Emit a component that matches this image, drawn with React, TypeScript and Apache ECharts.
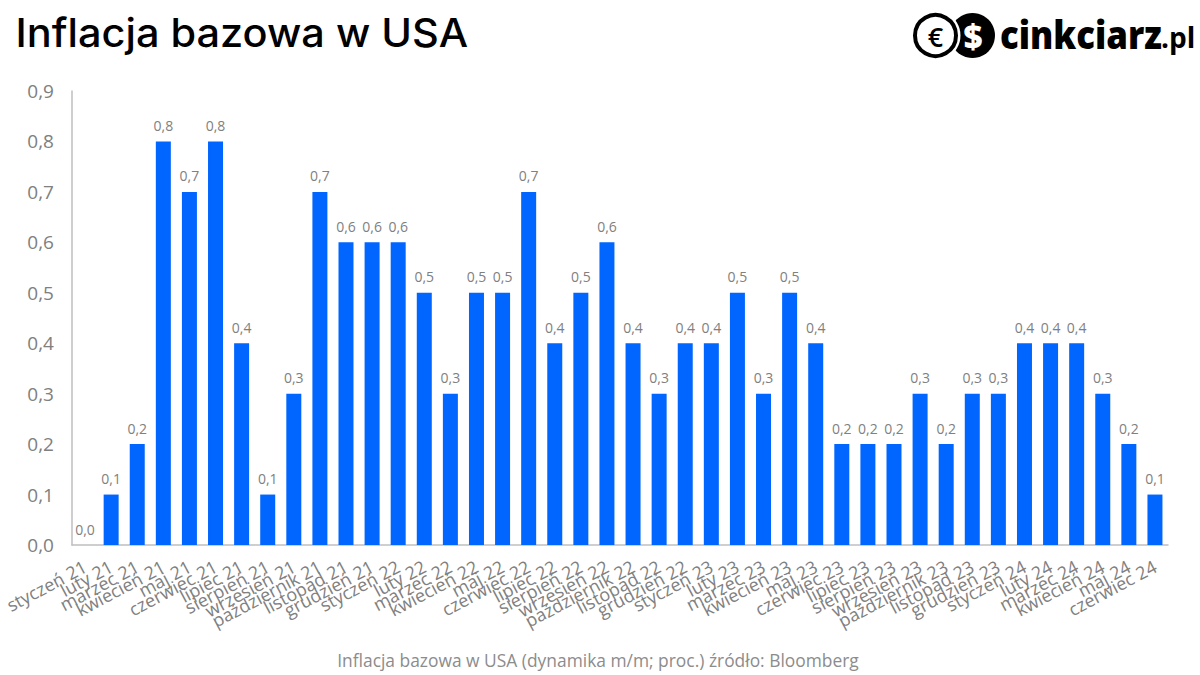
import React, { useEffect, useRef } from "react";
import * as echarts from "echarts";

const categories = [
  "styczeń 21","luty 21","marzec 21","kwiecień 21","maj 21","czerwiec 21","lipiec 21","sierpień 21","wrzesień 21","październik 21","listopad 21","grudzień 21",
  "styczeń 22","luty 22","marzec 22","kwiecień 22","maj 22","czerwiec 22","lipiec 22","sierpień 22","wrzesień 22","październik 22","listopad 22","grudzień 22",
  "styczeń 23","luty 23","marzec 23","kwiecień 23","maj 23","czerwiec 23","lipiec 23","sierpień 23","wrzesień 23","październik 23","listopad 23","grudzień 23",
  "styczeń 24","luty 24","marzec 24","kwiecień 24","maj 24","czerwiec 24",
];
const values = [
  0.0,0.1,0.2,0.8,0.7,0.8,0.4,0.1,0.3,0.7,0.6,0.6,
  0.6,0.5,0.3,0.5,0.5,0.7,0.4,0.5,0.6,0.4,0.3,0.4,
  0.4,0.5,0.3,0.5,0.4,0.2,0.2,0.2,0.3,0.2,0.3,0.3,
  0.4,0.4,0.4,0.3,0.2,0.1,
];
const titleText = "Inflacja bazowa w USA";
const sourceText = "Inflacja bazowa w USA (dynamika m/m; proc.) źródło: Bloomberg";
const fmt = (v: number) => v.toFixed(1).replace(".", ",");

export default function App() {
  const ref = useRef<HTMLDivElement>(null);
  useEffect(() => {
    document.body.style.margin = "0";
    const chart = echarts.init(ref.current!, undefined, { renderer: "svg" });
    chart.setOption({
      animation: false,
      backgroundColor: "#ffffff",
      textStyle: { fontFamily: "Open Sans" },
      grid: { left: 72, right: 32, top: 91, bottom: 130 },
      xAxis: {
        type: "category",
        data: categories,
        axisLine: { lineStyle: { color: "#bfbfbf", width: 1.5 } },
        axisTick: { show: false },
        axisLabel: { interval: 0, rotate: 28, fontSize: 18, color: "#808080", margin: 20, fontFamily: "Open Sans", hideOverlap: false },
      },
      yAxis: {
        type: "value",
        min: 0,
        max: 0.9,
        interval: 0.1,
        splitLine: { show: false },
        axisLine: { show: true, lineStyle: { color: "#bfbfbf", width: 1.5 } },
        axisTick: { show: false },
        axisLabel: { fontSize: 19, color: "#808080", margin: 18, fontFamily: "Open Sans", formatter: (v: number) => fmt(v) },
      },
      series: [{
        type: "bar",
        data: values,
        barWidth: 15,
        itemStyle: { color: "#0066ff" },
        label: { show: true, position: "top", distance: 9, fontSize: 14, color: "#808080", fontFamily: "Open Sans", formatter: (p: any) => fmt(p.value) },
      }],
      title: [
        { text: sourceText, left: 593, textAlign: "center", top: 646, textStyle: { fontFamily: "Open Sans", fontWeight: 400, fontSize: 17.4, color: "#8c8c8c" } },
      ],
      graphic: [
        { type: "text", x: 15.5, y: 33, scaleX: 1.064, style: { text: titleText, fontFamily: "Inter", fontWeight: 500, fontSize: 39, fill: "#000", align: "left", verticalAlign: "middle" } },
        { type: "circle", shape: { cx: 972.5, cy: 35.5, r: 22.5 }, style: { fill: "#000" } },
        { type: "circle", shape: { cx: 935.5, cy: 35.5, r: 25 }, style: { fill: "#fff" } },
        { type: "circle", shape: { cx: 935.5, cy: 35.5, r: 20.5 }, style: { fill: "#fff", stroke: "#000", lineWidth: 4 } },
        { type: "text", x: 935.5, y: 36, style: { text: "€", fontFamily: "Open Sans", fontWeight: 600, fontSize: 27, fill: "#000", align: "center", verticalAlign: "middle" } },
        { type: "text", x: 973, y: 36, style: { text: "$", fontFamily: "Open Sans", fontWeight: 800, fontSize: 33, fill: "#fff", align: "center", verticalAlign: "middle" } },
        { type: "text", x: 1000, y: 34, scaleX: 0.915, style: { text: "cinkciarz", fontFamily: "Open Sans", fontWeight: 800, fontSize: 38, fill: "#000", align: "left", verticalAlign: "middle" } },
        { type: "text", x: 1161, y: 37, style: { text: ".pl", fontFamily: "Open Sans", fontWeight: 700, fontSize: 28, fill: "#000", align: "left", verticalAlign: "middle" } },
      ],
    });
    return () => chart.dispose();
  }, []);
  return <div ref={ref} style={{ width: 1200, height: 675 }} />;
}
